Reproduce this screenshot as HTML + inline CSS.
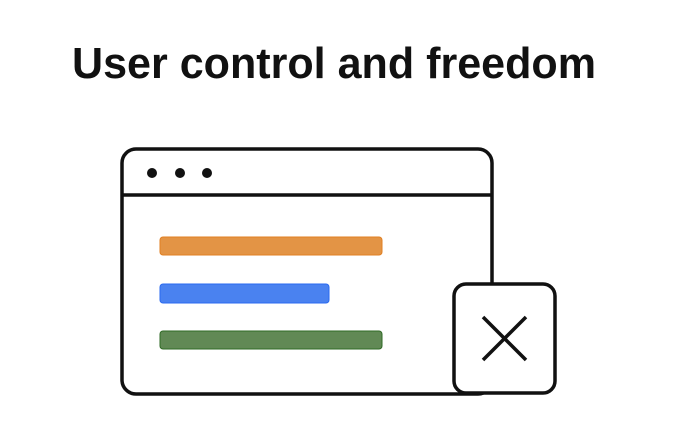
<!DOCTYPE html>
<html><head><meta charset="utf-8"><style>html,body{margin:0;padding:0;background:#fff;}svg{display:block}</style></head>
<body>
<svg width="676" height="448" viewBox="0 0 676 448" xmlns="http://www.w3.org/2000/svg">
<rect width="676" height="448" fill="#fff"/>
<text x="72" y="78" font-family="Liberation Sans, sans-serif" font-weight="bold" font-size="44" fill="#111" textLength="524" lengthAdjust="spacingAndGlyphs">User control and freedom</text>
<rect x="122" y="149" width="370" height="245" rx="14" fill="#fff" stroke="#111" stroke-width="3.5"/>
<line x1="122" y1="195" x2="492" y2="195" stroke="#111" stroke-width="3.5"/>
<circle cx="152" cy="173" r="5" fill="#111"/>
<circle cx="180" cy="173" r="5" fill="#111"/>
<circle cx="207" cy="173" r="5" fill="#111"/>
<rect x="160" y="237" width="222" height="18" rx="3" fill="#e39445" stroke="#e07f22" stroke-width="1"/>
<rect x="160" y="284" width="169" height="19" rx="3" fill="#4a82f0" stroke="#2a6af0" stroke-width="1"/>
<rect x="160" y="331" width="222" height="18" rx="3" fill="#618955" stroke="#2f6a25" stroke-width="1"/>
<rect x="454" y="284" width="101" height="109" rx="12" fill="#fff" stroke="#111" stroke-width="3.5"/>
<line x1="483" y1="317" x2="526" y2="360" stroke="#111" stroke-width="3.5"/>
<line x1="526" y1="317" x2="483" y2="360" stroke="#111" stroke-width="3.5"/>
</svg>
</body></html>
